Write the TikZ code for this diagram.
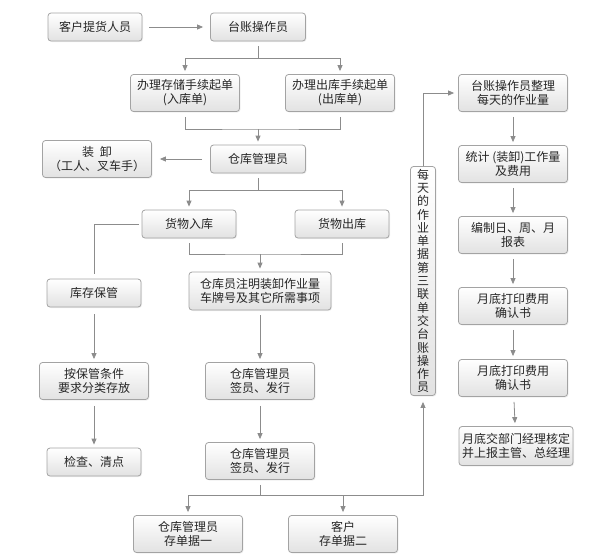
\documentclass[tikz,border=0pt]{standalone}
\usepackage{fontspec}
\setmainfont{Noto Sans CJK SC}
\usetikzlibrary{arrows.meta, shadows}
\definecolor{bordc}{HTML}{A3A3A3}
\definecolor{boxbot}{HTML}{E2E2E2}
\definecolor{linec}{HTML}{8C8C8C}
\definecolor{textc}{HTML}{262626}

\begin{document}
\begin{tikzpicture}[
        x=1pt, y=-1pt,
        box/.style={rectangle, draw=bordc, line width=0.8pt, rounded corners=3pt, top color=white, bottom color=boxbot, minimum width=94pt, minimum height=28pt, inner sep=0pt, align=center, text=textc, font=\fontsize{12}{14}\selectfont, drop shadow={shadow xshift=1pt, shadow yshift=-1pt, opacity=0.12}},
        widebox/.style={box, minimum width=109pt, minimum height=37pt},
        link/.style={draw=linec, line width=0.8pt},
        arrow/.style={link, -{Triangle[width=5pt, length=6pt]}, shorten >=3pt}
    ]
    \useasboundingbox (0,0) rectangle (592,558);

    % The Boxes
    \node (khty) [box] at (95,27) {客户提货人员};
    \node (tz) [box, minimum width=95pt] at (258,27) {台账操作员};
    \node (rkd) [widebox] at (185,93) {办理存储手续起单\\(入库单)};
    \node (ckd) [widebox] at (340,93) {办理出库手续起单\\(出库单)};
    \node (cgy) [box, minimum width=95pt] at (258,159) {仓库管理员};
    \node (zx) [widebox] at (97,159) {装\hspace{6pt}卸\\（工人、叉车手）};
    \node (hwrk) [box] at (189,224) {货物入库};
    \node (hwck) [box] at (342,224) {货物出库};
    \node (kcbg) [box] at (94,293) {库存保管};
    \node (zm) [widebox, minimum width=142pt, minimum height=38pt] at (260,291) {仓库员注明装卸作业量\\车牌号及其它所需事项};
    \node (azcf) [widebox] at (94,381) {按保管条件\\要求分类存放};
    \node (jcqd) [box] at (94,462) {检查、清点};
    \node (qf1) [widebox] at (260,381) {仓库管理员\\签员、发行};
    \node (qf2) [widebox] at (260,461) {仓库管理员\\签员、发行};
    \node (cd1) [widebox] at (188,534) {仓库管理员\\存单据一};
    \node (cd2) [widebox] at (343,534) {客户\\存单据二};
    \node (mtzy) [box, minimum width=25pt, minimum height=229pt, text width=12pt, font=\fontsize{12}{13.3}\selectfont] at (423,281)
        {每\\天\\的\\作\\业\\单\\据\\第\\三\\联\\单\\交\\台\\账\\操\\作\\员};
    \node (zl) [widebox] at (513,93) {台账操作员整理\\每天的作业量};
    \node (tj) [widebox] at (513,164) {统计 (装卸)工作量\\及费用};
    \node (bb) [widebox] at (513,235) {编制日、周、月\\报表};
    \node (dy1) [widebox] at (513,306) {月底打印费用\\确认书};
    \node (dy2) [widebox] at (513,378) {月底打印费用\\确认书};
    \node (hd) [widebox, minimum width=114pt, minimum height=39pt] at (516,446) {月底交部门经理核定\\并上报主管、总经理};

    % Junctions
    \coordinate (j1) at (258,58);
    \coordinate (j2) at (258,129);
    \coordinate (j3) at (258,190);
    \coordinate (j4) at (260,254);
    \coordinate (j5) at (260,495);

    % The Connectors
    \draw [arrow, shorten <=7pt, shorten >=7pt] (khty) -- (tz);
    \draw [link, shorten <=5pt] (tz) -- (j1);
    \draw [arrow] (j1) -| (rkd);
    \draw [arrow] (j1) -| (ckd);
    \draw [link, shorten <=5pt, shorten >=5pt] (rkd) |- (j2) -| (ckd);
    \draw [arrow] (j2) -- (cgy);
    \draw [arrow, shorten <=8pt, shorten >=8pt] (cgy) -- (zx);
    \draw [link, shorten <=5pt] (cgy) -- (j3);
    \draw [arrow] (j3) -| (hwrk);
    \draw [arrow] (j3) -| (hwck);
    \draw [link, shorten <=3pt, shorten >=5pt] (hwrk) -| (kcbg);
    \draw [link, shorten <=5pt, shorten >=5pt] (hwrk) |- (j4) -| (hwck);
    \draw [arrow] (j4) -- (zm);
    \draw [arrow, shorten <=7pt] (kcbg) -- (azcf);
    \draw [arrow, shorten <=6pt] (azcf) -- (jcqd);
    \draw [arrow, shorten <=5pt] (zm) -- (qf1);
    \draw [arrow, shorten <=6pt] (qf1) -- (qf2);
    \draw [link, shorten <=5pt] (qf2) -- (j5);
    \draw [arrow] (j5) -| (cd1);
    \draw [arrow] (j5) -| (cd2);
    \draw [arrow, shorten >=6pt] (j5) -| (mtzy);
    \draw [arrow, shorten >=4pt] (mtzy) |- (zl);
    \draw [arrow, shorten <=5pt] (zl) -- (tj);
    \draw [arrow, shorten <=5pt] (tj) -- (bb);
    \draw [arrow, shorten <=5pt] (bb) -- (dy1);
    \draw [arrow, shorten <=5pt] (dy1) -- (dy2);
    \draw [arrow, shorten <=5pt] (dy2) -- (hd);

\end{tikzpicture}
\end{document}
